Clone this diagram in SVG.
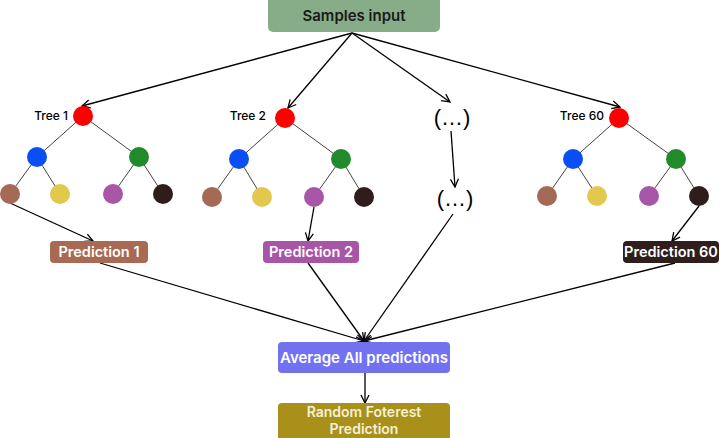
<svg xmlns="http://www.w3.org/2000/svg" width="720" height="438" viewBox="0 0 720 438">
<defs>
<marker id="arr" viewBox="0 0 10 10" refX="9" refY="5" markerWidth="10" markerHeight="10" markerUnits="userSpaceOnUse" orient="auto">
<path d="M1,1 L9,5 L1,9" fill="none" stroke="#000" stroke-width="1.3"/>
</marker>
<style>
.box-t{font-family:Inter,"Liberation Sans",sans-serif;font-weight:600;fill:#fff;text-anchor:middle}
.lbl{font-family:Inter,"Liberation Sans",sans-serif;font-weight:500;font-size:12px;fill:#000;text-anchor:end}
.dots{font-family:"Liberation Sans",Arial,sans-serif;font-size:22px;fill:#000;text-anchor:middle}
.e{stroke:#444;stroke-width:1}
.c{stroke:#000;stroke-width:1.3;fill:none;marker-end:url(#arr)}
.red{fill:#ff0000}.blue{fill:#0a4ff5}.green{fill:#218a2b}.brown{fill:#a56a55}.yellow{fill:#e2c94e}.purple{fill:#a856a8}.dark{fill:#2e1d1b}
</style>
</defs>
<rect width="720" height="438" fill="#fff"/>
<g id="connectors">
<line class="c" x1="352" y1="33" x2="82" y2="106"/>
<line class="c" x1="352" y1="33" x2="288" y2="108"/>
<line class="c" x1="352" y1="33" x2="450" y2="102"/>
<line class="c" x1="352" y1="33" x2="620" y2="107"/>
<line class="c" x1="451" y1="131" x2="455" y2="187"/>
<line class="c" x1="10" y1="203" x2="93" y2="241"/>
<line class="c" x1="314" y1="207" x2="308" y2="241"/>
<line class="c" x1="699" y1="206" x2="672" y2="241"/>
<line class="c" x1="100" y1="263" x2="364" y2="341"/>
<line class="c" x1="308" y1="263" x2="364" y2="341"/>
<line class="c" x1="453" y1="214" x2="364" y2="341"/>
<line class="c" x1="675" y1="263" x2="364" y2="341"/>
<line class="c" x1="365" y1="373" x2="365" y2="403"/>
</g>
<g id="samples">
<rect x="268" y="-6" width="172" height="38" rx="5" fill="#86ad87"/>
<text x="354" y="21" font-family="Inter,'Liberation Sans',sans-serif" font-weight="600" font-size="15" fill="#1a1a1a" text-anchor="middle">Samples input</text>
</g>
<g id="tree1">
<line class="e" x1="83" y1="116" x2="37" y2="157"/><line class="e" x1="83" y1="116" x2="139" y2="157"/>
<line class="e" x1="37" y1="157" x2="10" y2="194"/><line class="e" x1="37" y1="157" x2="60" y2="194"/>
<line class="e" x1="139" y1="157" x2="113" y2="194"/><line class="e" x1="139" y1="157" x2="163" y2="194"/>
<circle class="red" cx="83" cy="116" r="10"/>
<circle class="blue" cx="37" cy="157" r="10"/><circle class="green" cx="139" cy="157" r="10"/>
<circle class="brown" cx="10" cy="194" r="10"/><circle class="yellow" cx="60" cy="194" r="10"/>
<circle class="purple" cx="113" cy="194" r="10"/><circle class="dark" cx="163" cy="194" r="10"/>
<text class="lbl" x="68" y="120">Tree 1</text>
</g>
<g id="tree2">
<line class="e" x1="285" y1="118" x2="239" y2="159"/><line class="e" x1="285" y1="118" x2="341" y2="159"/>
<line class="e" x1="239" y1="159" x2="212" y2="197"/><line class="e" x1="239" y1="159" x2="262" y2="197"/>
<line class="e" x1="341" y1="159" x2="314" y2="197"/><line class="e" x1="341" y1="159" x2="364" y2="197"/>
<circle class="red" cx="285" cy="118" r="10"/>
<circle class="blue" cx="239" cy="159" r="10"/><circle class="green" cx="341" cy="159" r="10"/>
<circle class="brown" cx="212" cy="197" r="10"/><circle class="yellow" cx="262" cy="197" r="10"/>
<circle class="purple" cx="314" cy="197" r="10"/><circle class="dark" cx="364" cy="197" r="10"/>
<text class="lbl" x="266" y="120">Tree 2</text>
</g>
<g id="tree60">
<line class="e" x1="619" y1="118" x2="573" y2="159"/><line class="e" x1="619" y1="118" x2="676" y2="159"/>
<line class="e" x1="573" y1="159" x2="547" y2="196"/><line class="e" x1="573" y1="159" x2="597" y2="196"/>
<line class="e" x1="676" y1="159" x2="649" y2="196"/><line class="e" x1="676" y1="159" x2="699" y2="196"/>
<circle class="red" cx="619" cy="118" r="10"/>
<circle class="blue" cx="573" cy="159" r="10"/><circle class="green" cx="676" cy="159" r="10"/>
<circle class="brown" cx="547" cy="196" r="10"/><circle class="yellow" cx="597" cy="196" r="10"/>
<circle class="purple" cx="649" cy="196" r="10"/><circle class="dark" cx="699" cy="196" r="10"/>
<text class="lbl" x="604" y="120">Tree 60</text>
</g>
<g id="dots1"><text class="dots" x="452" y="125">(…)</text></g>
<g id="dots2"><text class="dots" x="455" y="206">(…)</text></g>
<g id="pred1">
<rect x="50" y="241" width="98" height="22" rx="4" fill="#a86a52"/>
<text class="box-t" x="99" y="257" font-size="14.5">Prediction 1</text>
</g>
<g id="pred2">
<rect x="263" y="241" width="96" height="22" rx="4" fill="#a855a8"/>
<text class="box-t" x="311" y="257" font-size="14.5">Prediction 2</text>
</g>
<g id="pred60">
<rect x="623" y="241" width="96" height="22" rx="4" fill="#2e1f1d"/>
<text class="box-t" x="671" y="257" font-size="14.5">Prediction 60</text>
</g>
<g id="average">
<rect x="278" y="342" width="172" height="31" rx="4" fill="#7272f0"/>
<text class="box-t" x="364" y="363" font-size="15">Average All predictions</text>
</g>
<g id="result">
<rect x="278" y="403" width="172" height="40" rx="4" fill="#a8901a"/>
<text class="box-t" x="364" y="417" font-size="14" style="fill:#f5f0d8">Random Foterest</text>
<text class="box-t" x="364" y="434" font-size="14" style="fill:#f5f0d8">Prediction</text>
</g>
</svg>
